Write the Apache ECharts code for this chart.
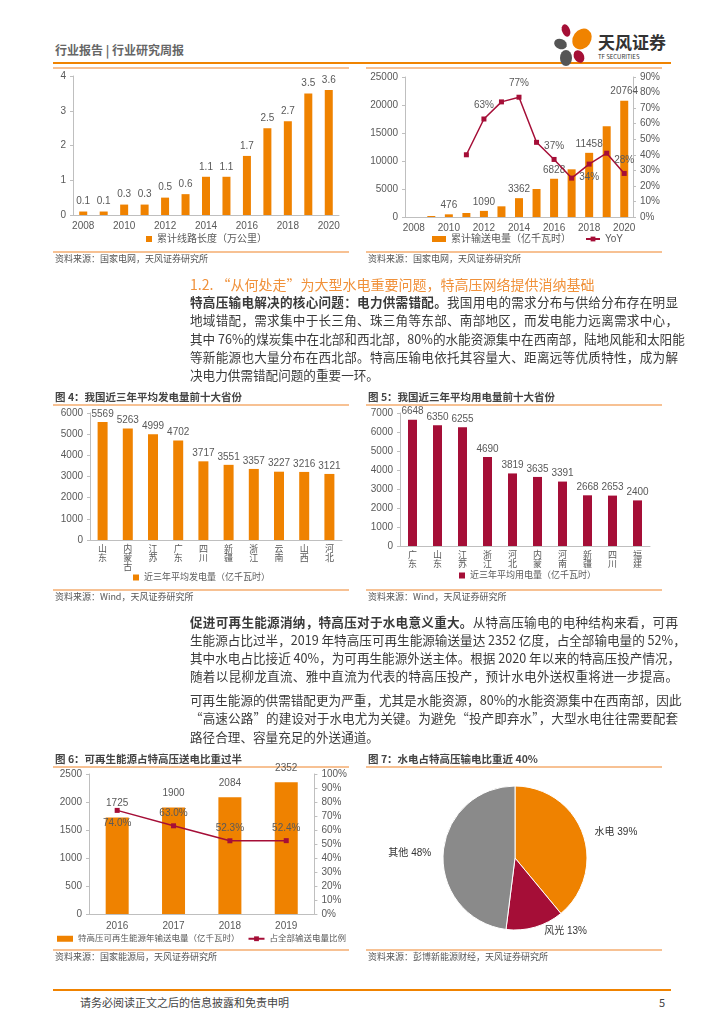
<!DOCTYPE html>
<html><head><meta charset="utf-8">
<script src="https://cdn.jsdelivr.net/npm/echarts/dist/echarts.min.js"></script>
<style>
html,body{margin:0;padding:0;background:#fff;}
body{width:724px;height:1024px;position:relative;overflow:hidden;font-family:"Noto Sans CJK SC","Liberation Sans",sans-serif;color:#3a3a3a;}
.abs{position:absolute;}
.hline{position:absolute;height:2px;background:#F7C193;}
.t{position:absolute;left:190px;width:488px;font-size:12.6px;line-height:18px;height:18px;text-align:justify;text-align-last:justify;white-space:nowrap;color:#3a3a3a;}
.t.last{text-align-last:left;}
.ftitle{position:absolute;font-size:10.5px;font-weight:bold;color:#444;line-height:14px;}
.src{position:absolute;font-size:9px;color:#555;line-height:12px;}
.chart{position:absolute;}
.petal{position:absolute;border-radius:50%;}
</style></head>
<body>
<!-- header -->
<div class="abs" style="left:55px;top:42px;font-size:12px;font-weight:bold;color:#666;line-height:16px;">行业报告 | 行业研究周报</div>
<div class="abs" style="left:53px;top:62px;width:618px;height:2px;background:#F08300;"></div>
<div class="petal" style="left:562px;top:24px;width:8px;height:13px;background:#A50F36;transform:rotate(-20deg);"></div>
<div class="petal" style="left:573px;top:28px;width:18px;height:22px;background:#F08300;transform:rotate(35deg);"></div>
<div class="petal" style="left:554px;top:39px;width:13px;height:10px;background:#555;transform:rotate(20deg);"></div>
<div class="petal" style="left:560px;top:50px;width:12px;height:16px;background:#555;"></div>
<div class="petal" style="left:574px;top:50px;width:10px;height:13px;background:#A50F36;transform:rotate(-30deg);"></div>
<div class="abs" style="left:598px;top:32px;font-size:17px;font-weight:bold;color:#333;line-height:20px;">天风证券</div>
<div class="abs" style="left:598px;top:53px;font-size:6px;color:#333;line-height:7px;">TF SECURITIES</div>

<!-- figure row 1 -->
<div class="hline" style="left:53px;top:67px;width:296px;"></div>
<div class="hline" style="left:366px;top:67px;width:296px;"></div>
<div id="c1" class="chart" style="left:53px;top:68px;width:307px;height:185px;"></div>
<div id="c2" class="chart" style="left:365px;top:68px;width:325px;height:185px;"></div>
<div class="hline" style="left:53px;top:251px;width:296px;"></div>
<div class="hline" style="left:366px;top:251px;width:296px;"></div>
<div class="src" style="left:55px;top:253px;">资料来源：国家电网，天风证券研究所</div>
<div class="src" style="left:368px;top:253px;">资料来源：国家电网，天风证券研究所</div>

<!-- section heading -->
<div class="abs" style="left:190px;top:274px;font-size:14px;line-height:20px;color:#F0913A;">1.2. “从何处走”为大型水电重要问题，特高压网络提供消纳基础</div>

<div class="t" style="top:293px;"><b>特高压输电解决的核心问题：电力供需错配。</b>我国用电的需求分布与供给分布存在明显</div>
<div class="t" style="top:311px;">地域错配，需求集中于长三角、珠三角等东部、南部地区，而发电能力远离需求中心，</div>
<div class="t" style="top:330px;">其中 76%的煤炭集中在北部和西北部，80%的水能资源集中在西南部，陆地风能和太阳能</div>
<div class="t" style="top:348px;">等新能源也大量分布在西北部。特高压输电依托其容量大、距离远等优质特性，成为解</div>
<div class="t last" style="top:366px;">决电力供需错配问题的重要一环。</div>

<!-- figure row 2 -->
<div class="ftitle" style="left:55px;top:390px;">图 4：我国近三年平均发电量前十大省份</div>
<div class="ftitle" style="left:368px;top:390px;">图 5：我国近三年平均用电量前十大省份</div>
<div class="hline" style="left:53px;top:404px;width:296px;"></div>
<div class="hline" style="left:366px;top:404px;width:296px;"></div>
<div id="c4" class="chart" style="left:53px;top:406px;width:297px;height:184px;"></div>
<div id="c5" class="chart" style="left:365px;top:406px;width:325px;height:184px;"></div>
<div class="hline" style="left:53px;top:589px;width:296px;"></div>
<div class="hline" style="left:366px;top:589px;width:296px;"></div>
<div class="src" style="left:55px;top:591px;">资料来源：Wind，天风证券研究所</div>
<div class="src" style="left:368px;top:591px;">资料来源：Wind，天风证券研究所</div>

<div class="t" style="top:613px;"><b>促进可再生能源消纳，特高压对于水电意义重大。</b>从特高压输电的电种结构来看，可再</div>
<div class="t" style="top:631px;">生能源占比过半，2019 年特高压可再生能源输送量达 2352 亿度，占全部输电量的 52%，</div>
<div class="t" style="top:649px;">其中水电占比接近 40%，为可再生能源外送主体。根据 2020 年以来的特高压投产情况，</div>
<div class="t" style="top:667px;">随着以昆柳龙直流、雅中直流为代表的特高压投产，预计水电外送权重将进一步提高。</div>
<div class="t" style="top:691px;">可再生能源的供需错配更为严重，尤其是水能资源，80%的水能资源集中在西南部，因此</div>
<div class="t" style="top:709px;">“高速公路”的建设对于水电尤为关键。为避免“投产即弃水”，大型水电往往需要配套</div>
<div class="t last" style="top:728px;">路径合理、容量充足的外送通道。</div>

<!-- figure row 3 -->
<div class="ftitle" style="left:55px;top:752px;">图 6：可再生能源占特高压送电比重过半</div>
<div class="ftitle" style="left:368px;top:752px;">图 7：水电占特高压输电比重近 40%</div>
<div class="hline" style="left:53px;top:766px;width:296px;"></div>
<div class="hline" style="left:366px;top:766px;width:296px;"></div>
<div id="c6" class="chart" style="left:53px;top:757px;width:297px;height:193px;"></div>
<div id="c7" class="chart" style="left:365px;top:767px;width:325px;height:183px;"></div>
<div class="hline" style="left:53px;top:949px;width:296px;"></div>
<div class="hline" style="left:366px;top:949px;width:296px;"></div>
<div class="src" style="left:55px;top:951px;">资料来源：国家能源局，天风证券研究所</div>
<div class="src" style="left:368px;top:951px;">资料来源：彭博新能源财经，天风证券研究所</div>

<!-- footer -->
<div class="abs" style="left:53px;top:989px;width:618px;height:2px;background:#F08300;"></div>
<div class="abs" style="left:80px;top:995px;font-size:11px;color:#444;line-height:14px;">请务必阅读正文之后的信息披露和免责申明</div>
<div class="abs" style="left:659px;top:995px;font-size:11px;color:#444;line-height:14px;">5</div>

<script>
// ---------- data ----------
const years = ['2008','2009','2010','2011','2012','2013','2014','2015','2016','2017','2018','2019','2020'];
const lineLength = [0.1,0.1,0.3,0.3,0.5,0.6,1.1,1.1,1.7,2.5,2.7,3.5,3.6];
const transmission = [0,180,476,714,1090,1905,3362,5000,6828,8512,11458,16190,20764];
const transLabelIdx = [2,4,6,8,10,12];
const yoy = [null,null,null,40,63,74,77,48,37,25,34,41,28];
const yoyLabelIdx = [4,6,8,10,12];
const yoyLabelBelow = [10];

const genProv = ['山东','内蒙古','江苏','广东','四川','新疆','浙江','云南','山西','河北'];
const genVal = [5569,5263,4999,4702,3717,3551,3357,3227,3216,3121];
const useProv = ['广东','山东','江苏','浙江','河北','内蒙','河南','新疆','四川','福建'];
const useVal = [6648,6350,6255,4690,3819,3635,3391,2668,2653,2400];

const uhvYears = ['2016','2017','2018','2019'];
const renewVal = [1725,1900,2084,2352];
const renewShare = [74.0,63.0,52.3,52.4];
const renewShareBelow = [0];

const pieNames = ['水电','风光','其他'];
const pieVals = [39,13,48];

// ---------- style ----------
const ORANGE = '#EF8200', RED = '#A50E37', GRAY = '#8A8A8A';
const FONT = '"Liberation Sans","Noto Sans CJK SC",sans-serif';
const TXT = '#595959';
const axisLineStyle = {show:true, lineStyle:{color:'#BFBFBF', width:1}};
function valAxis(extra, fmt){
  return Object.assign({type:'value', axisLine:axisLineStyle, axisTick:{show:true,length:3,lineStyle:{color:'#BFBFBF'}},
    splitLine:{show:false}, axisLabel:{fontSize:10,color:TXT,fontFamily:FONT,margin:7,formatter:fmt||(v=>String(v))}}, extra);
}
function catAxis(data, labelExtra){
  return {type:'category', data:data, axisLine:axisLineStyle, axisTick:{show:false},
    axisLabel:Object.assign({fontSize:10,color:TXT,fontFamily:FONT,margin:6}, labelExtra||{})};
}
const legendText = {fontSize:10,color:TXT,fontFamily:FONT};
const vertical = v=>v.split('').join('\n');

// chart 1
echarts.init(document.getElementById('c1')).setOption({
  animation:false,
  grid:{left:20,top:8,right:21,bottom:38},
  legend:{bottom:4,left:'center',icon:'rect',itemWidth:6,itemHeight:6,itemGap:6,textStyle:legendText,data:['累计线路长度（万公里）']},
  xAxis:catAxis(years,{interval:1}),
  yAxis:valAxis({min:0,max:4,interval:1}),
  series:[{type:'bar',name:'累计线路长度（万公里）',data:lineLength,barWidth:8,itemStyle:{color:ORANGE},
    label:{show:true,position:'top',fontSize:10,color:TXT,fontFamily:FONT,distance:5,formatter:p=>p.value.toFixed(1)}}]
});

// chart 2
echarts.init(document.getElementById('c2')).setOption({
  animation:false,
  grid:{left:40,top:9,right:57,bottom:36},
  legend:{bottom:4,left:'center',itemWidth:14,itemHeight:6,itemGap:14,textStyle:legendText,
    data:[{name:'累计输送电量（亿千瓦时）',icon:'rect'},{name:'YoY'}]},
  xAxis:catAxis(years,{interval:1}),
  yAxis:[valAxis({min:0,max:25000,interval:5000}),
         valAxis({min:0,max:90,interval:10,position:'right'},v=>v+'%')],
  series:[
    {type:'bar',name:'累计输送电量（亿千瓦时）',barWidth:8,itemStyle:{color:ORANGE},
      data:transmission.map((v,i)=>({value:v,label:{show:transLabelIdx.includes(i)}})),
      label:{position:'top',fontSize:10,color:TXT,fontFamily:FONT,distance:4}},
    {type:'line',name:'YoY',yAxisIndex:1,symbol:'rect',symbolSize:5,lineStyle:{color:RED,width:1.5},itemStyle:{color:RED},
      data:yoy.map((v,i)=>({value:v,label:{show:yoyLabelIdx.includes(i),position:yoyLabelBelow.includes(i)?'bottom':'top'}})),
      label:{fontSize:10,color:TXT,fontFamily:FONT,distance:6,formatter:'{c}%'}}
  ]
});

// chart 4
echarts.init(document.getElementById('c4')).setOption({
  animation:false,
  grid:{left:37,top:7,right:8,bottom:50},
  legend:{bottom:3,left:'center',icon:'rect',itemWidth:6,itemHeight:6,itemGap:3,textStyle:{fontSize:9,color:TXT,fontFamily:FONT},data:['近三年平均发电量（亿千瓦时）']},
  xAxis:catAxis(genProv,{interval:0,fontSize:9,lineHeight:9,margin:5,formatter:vertical}),
  yAxis:valAxis({min:0,max:6000,interval:1000}),
  series:[{type:'bar',name:'近三年平均发电量（亿千瓦时）',data:genVal,barWidth:10,itemStyle:{color:ORANGE},
    label:{show:true,position:'top',fontSize:10,color:TXT,fontFamily:FONT,distance:3}}]
});

// chart 5
echarts.init(document.getElementById('c5')).setOption({
  animation:false,
  grid:{left:35,top:7,right:40,bottom:44},
  legend:{bottom:5,left:'center',icon:'rect',itemWidth:6,itemHeight:6,itemGap:3,textStyle:{fontSize:9,color:TXT,fontFamily:FONT},data:['近三年平均用电量（亿千瓦时）']},
  xAxis:catAxis(useProv,{interval:0,fontSize:9,lineHeight:9,margin:5,formatter:vertical}),
  yAxis:valAxis({min:0,max:7000,interval:1000}),
  series:[{type:'bar',name:'近三年平均用电量（亿千瓦时）',data:useVal,barWidth:9,itemStyle:{color:RED},
    label:{show:true,position:'top',fontSize:10,color:TXT,fontFamily:FONT,distance:3}}]
});

// chart 6
echarts.init(document.getElementById('c6')).setOption({
  animation:false,
  grid:{left:36,top:17,right:33,bottom:36},
  legend:{bottom:7,left:'center',padding:0,itemWidth:16,itemHeight:6,itemGap:8,textStyle:{fontSize:8.5,color:TXT,fontFamily:FONT},
    data:[{name:'特高压可再生能源年输送电量（亿千瓦时）',icon:'rect'},{name:'占全部输送电量比例'}]},
  xAxis:catAxis(uhvYears,{interval:0,margin:7}),
  yAxis:[valAxis({min:0,max:2500,interval:500}),
         valAxis({min:0,max:100,interval:10,position:'right'},v=>v+'%')],
  series:[
    {type:'bar',name:'特高压可再生能源年输送电量（亿千瓦时）',data:renewVal,barWidth:23,itemStyle:{color:ORANGE},
      label:{show:true,position:'top',fontSize:10,color:TXT,fontFamily:FONT,distance:9}},
    {type:'line',name:'占全部输送电量比例',yAxisIndex:1,symbol:'rect',symbolSize:5,lineStyle:{color:RED,width:1.5},itemStyle:{color:RED},
      data:renewShare.map((v,i)=>({value:v,label:{position:renewShareBelow.includes(i)?'bottom':'top'}})),
      label:{show:true,fontSize:10,color:TXT,fontFamily:FONT,distance:5,formatter:p=>p.value.toFixed(1)+'%'}}
  ]
});

// chart 7
echarts.init(document.getElementById('c7')).setOption({
  animation:false,
  color:[ORANGE,RED,GRAY],
  series:[{type:'pie',center:[150,91],radius:72,startAngle:90,clockwise:true,
    itemStyle:{borderColor:'#fff',borderWidth:1},
    label:{show:true,position:'outside',formatter:'{b} {d}%',fontSize:10,color:'#333',fontFamily:FONT},
    labelLine:{show:false,length:4,length2:3},
    data:pieNames.map((n,i)=>({name:n,value:pieVals[i]}))}]
});
</script>
</body></html>
